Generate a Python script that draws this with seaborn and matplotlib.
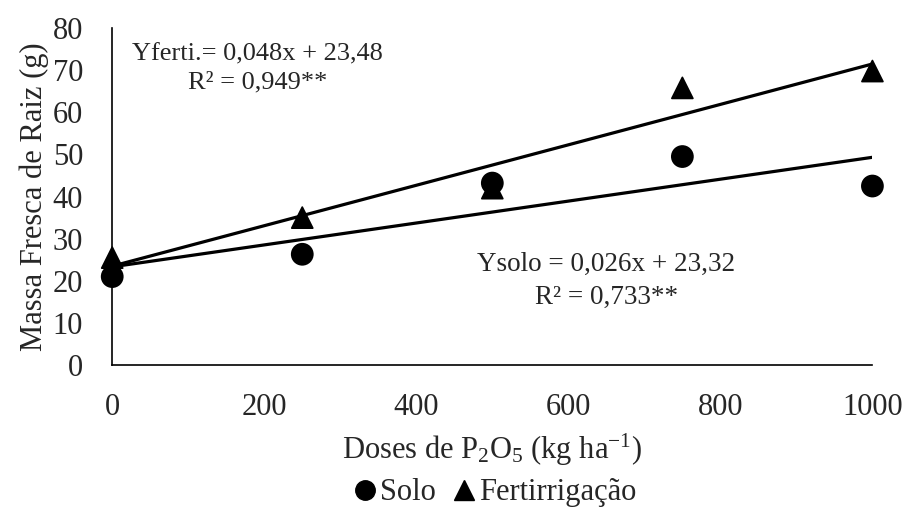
import numpy as np
import pandas as pd
import matplotlib
matplotlib.use("Agg")
import matplotlib.pyplot as plt
import seaborn as sns
from matplotlib.lines import Line2D

# dados
doses = [0, 250, 500, 750, 1000]
solo = [21.0, 26.3, 43.2, 49.5, 42.5]
ferti = [25.5, 35.0, 42.0, 65.8, 69.8]

# coeficientes das regressoes (da figura)
coef_solo = (0.026, 23.32)
coef_ferti = (0.048, 23.48)

sns.set_style("white")
plt.rcParams['font.family'] = ['Liberation Serif', 'DejaVu Serif']
plt.rcParams['mathtext.default'] = 'regular'

df = pd.DataFrame({
    'dose': doses * 2,
    'massa': solo + ferti,
    'grupo': ['Solo'] * 5 + ['Fertirrigação'] * 5,
})

fig = plt.figure(figsize=(9.05, 5.2), dpi=100)
ax = fig.add_axes([0.124, 0.298, 0.84, 0.648])

# linhas de tendencia
xl = np.array([0, 1000])
for a, b in [coef_ferti, coef_solo]:
    sns.lineplot(x=xl, y=a * xl + b, ax=ax, color='black', linewidth=2.3)

sns.scatterplot(data=df, x='dose', y='massa', style='grupo',
                markers={'Solo': 'o', 'Fertirrigação': '^'},
                color='black', s=230, edgecolor='black', ax=ax,
                clip_on=False, zorder=3, legend=False)

ax.set_xlim(0, 1000)
ax.set_ylim(0, 80)
ax.set_xticks(range(0, 1001, 200))
ax.set_yticks(range(0, 81, 10))
ax.tick_params(labelsize=22, length=0)
ax.tick_params(axis='x', pad=20)
ax.tick_params(axis='y', pad=21)
for s in ['top', 'right']:
    ax.spines[s].set_visible(False)
for s in ['left', 'bottom']:
    ax.spines[s].set_color('black')
    ax.spines[s].set_linewidth(1.2)

ax.set_ylabel('Massa Fresca de Raiz (g)', fontsize=22, labelpad=3)
ax.set_xlabel('Doses de P$_2$O$_5$ (kg ha$^{-1}$)', fontsize=22, labelpad=7)

ax.text(191, 73.8, 'Yferti.= 0,048x + 23,48', fontsize=19, ha='center', va='center')
ax.text(191, 67.0, 'R² = 0,949**', fontsize=19, ha='center', va='center')
ax.text(650, 24.0, 'Ysolo = 0,026x + 23,32', fontsize=19.5, ha='center', va='center')
ax.text(650, 16.0, 'R² = 0,733**', fontsize=19.5, ha='center', va='center')

handles = [Line2D([], [], marker='o', color='black', linestyle='none', markersize=14),
           Line2D([], [], marker='^', color='black', linestyle='none', markersize=14)]
fig.legend(handles, ['Solo', 'Fertirrigação'], loc='center', bbox_to_anchor=(0.545, 0.052),
           ncol=2, frameon=False, fontsize=22, handletextpad=0.0, columnspacing=0.4,
           handlelength=1.0)

fig.savefig('out.png', dpi=100)
